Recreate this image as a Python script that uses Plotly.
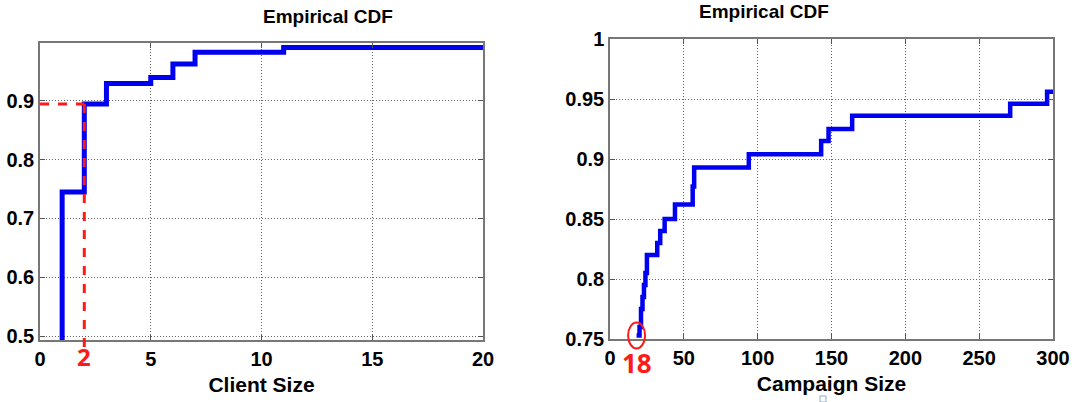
import plotly.graph_objects as go

# ---- data ----
client_size = [0, 1, 2, 3, 5, 6, 7, 11, 20]
client_cdf = [0.0, 0.745, 0.894, 0.929, 0.939, 0.962, 0.982, 0.990, 0.990]

campaign_size = [18, 20, 21, 22, 23, 24, 25, 32, 34, 37, 44, 56, 57, 94, 143, 148, 164, 271, 296, 300]
campaign_cdf = [0.753, 0.760, 0.775, 0.785, 0.795, 0.805, 0.820, 0.830, 0.840, 0.850, 0.862, 0.877,
                0.893, 0.904, 0.915, 0.925, 0.936, 0.946, 0.956, 0.956]

client_mark_x = 2
client_mark_y = 0.894
campaign_mark_x = 18
campaign_mark_y = 0.753

left_xticks = [0, 5, 10, 15, 20]
left_yticks = [0.5, 0.6, 0.7, 0.8, 0.9]
right_xticks = [0, 50, 100, 150, 200, 250, 300]
right_yticks = [0.75, 0.8, 0.85, 0.9, 0.95, 1]

W, H = 1087, 402
FONT = "Liberation Sans Narrow, Arial Narrow, Liberation Sans, Arial, sans-serif"
BLUE = "#0000f0"
RED = "#ff1a1a"

# domains (paper coords)
L_X = [40 / W, 483 / W]
L_Y = [(H - 340) / H, (H - 43.3) / H]
R_X = [610 / W, 1053 / W]
R_Y = [(H - 339) / H, (H - 39) / H]
L_YR = [0.494, 0.997]
R_YR = [0.75, 1.0]

fig = go.Figure()
fig.add_trace(go.Scatter(x=client_size, y=client_cdf, mode="lines", line_shape="hv",
                         line=dict(color=BLUE, width=5), xaxis="x", yaxis="y", showlegend=False))
fig.add_trace(go.Scatter(x=[0, client_mark_x], y=[client_mark_y, client_mark_y], mode="lines",
                         line=dict(color=RED, width=3, dash="dash"), xaxis="x", yaxis="y", showlegend=False))
fig.add_trace(go.Scatter(x=campaign_size, y=campaign_cdf, mode="lines", line_shape="hv",
                         line=dict(color=BLUE, width=4.5), xaxis="x2", yaxis="y2", showlegend=False))


def ypaper(v, rng, dom):
    return dom[0] + (v - rng[0]) / (rng[1] - rng[0]) * (dom[1] - dom[0])


shapes = [
    dict(type="line", xref="x", yref="paper", x0=client_mark_x, x1=client_mark_x,
         y0=ypaper(client_mark_y, L_YR, L_Y), y1=(H - 347) / H,
         line=dict(color=RED, width=3, dash="dash")),
    dict(type="circle", xref="x2", yref="paper",
         x0=campaign_mark_x - 8.5 * 300 / 443, x1=campaign_mark_x + 8.5 * 300 / 443,
         y0=ypaper(campaign_mark_y, R_YR, R_Y) - 13 / H, y1=ypaper(campaign_mark_y, R_YR, R_Y) + 13 / H,
         line=dict(color=RED, width=2)),
    dict(type="rect", xref="paper", yref="paper", x0=820 / W, x1=826 / W, y0=0 / H, y1=6 / H,
         line=dict(color="#8fa8c8", width=1)),
]

tickfont = dict(family=FONT, size=20, color="black", weight="bold")
axis_common = dict(showline=True, linecolor="#777", linewidth=1.5, mirror="ticks",
                   ticks="inside", ticklen=5, tickcolor="#555", tickwidth=1.2,
                   showgrid=True, gridcolor="#666", griddash="1px,2px", gridwidth=1.2,
                   zeroline=False, tickfont=tickfont, automargin=False)
titlefont = dict(family=FONT, size=21, color="black", weight="bold")

fig.update_layout(
    width=W, height=H, margin=dict(l=0, r=0, t=0, b=0, autoexpand=False),
    paper_bgcolor="white", plot_bgcolor="white",
    xaxis=dict(domain=L_X, range=[0, 20], tickvals=left_xticks, anchor="y", **axis_common,
               title=dict(text="Client Size", font=titlefont, standoff=9)),
    yaxis=dict(domain=L_Y, range=L_YR, tickvals=left_yticks, anchor="x", **axis_common),
    xaxis2=dict(domain=R_X, range=[0, 300], tickvals=right_xticks, anchor="y2", **axis_common,
                title=dict(text="Campaign Size", font=titlefont, standoff=9)),
    yaxis2=dict(domain=R_Y, range=R_YR, tickvals=right_yticks, anchor="x2", **axis_common),
    shapes=shapes,
    annotations=[
        dict(text="Empirical CDF", xref="paper", yref="paper", x=261 / W, y=(H - 17) / H,
             yanchor="middle", showarrow=False,
             font=dict(family=FONT, size=19, color="black", weight="bold")),
        dict(text="Empirical CDF", xref="paper", yref="paper", x=831 / W, y=(H - 12) / H,
             yanchor="middle", showarrow=False,
             font=dict(family=FONT, size=19, color="black", weight="bold")),
        dict(text="2", xref="x", yref="paper", x=client_mark_x, y=(H - 356) / H,
             yanchor="middle", showarrow=False,
             font=dict(family="Open Sans, sans-serif", size=24, color=RED, weight="bold")),
        dict(text="18", xref="x2", yref="paper", x=campaign_mark_x, y=(H - 363) / H,
             yanchor="middle", showarrow=False,
             font=dict(family="Open Sans, sans-serif", size=26, color=RED, weight="bold")),
    ],
)

fig.write_html("out.html", config={"displayModeBar": False},
               post_script="document.body.style.margin='0';document.body.style.overflow='hidden';")
